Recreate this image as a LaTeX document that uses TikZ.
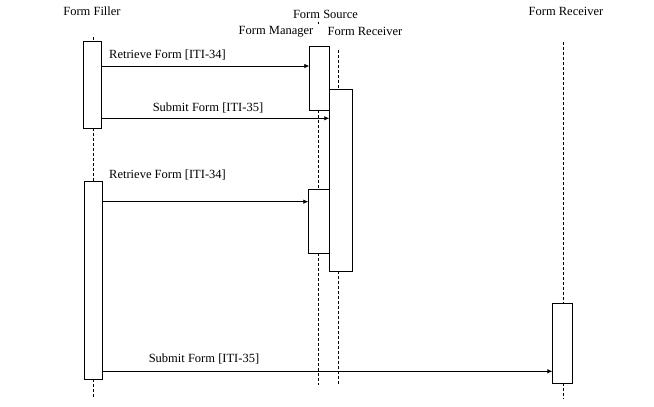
\documentclass[tikz,border=0pt]{standalone}
\usepackage{fontspec}
\setmainfont{Liberation Serif}
\usetikzlibrary{arrows.meta}
\begin{document}
\begin{tikzpicture}[x=1pt,y=-1pt,
  lbl/.style={font=\fontsize{12.5}{13}\selectfont, inner sep=0pt},
  actbox/.style={draw, line width=0.8pt, fill=white, inner sep=0pt, anchor=north west},
  life/.style={line width=0.8pt, dash pattern=on 3pt off 2pt},
  msg/.style={line width=0.8pt, -{Latex[length=5pt,width=4.5pt]}}]
\useasboundingbox (0,0) rectangle (654,407);
% headings
\node[lbl] (hfill) at (92,11.5) {Form Filler};
\node[lbl] (hsrc) at (325.5,14) {Form Source};
\node[lbl] (hman) at (276,31.5) {Form Manager};
\node[lbl] (hrec) at (365,31.5) {Form Receiver};
\node[lbl] (hrr) at (566,11.5) {Form Receiver};
% lifelines
\draw[life] (93,37) -- (93,41);
\draw[life] (93,128) -- (93,182);
\draw[life] (93,379) -- (93,397);
\draw[line width=0.8pt] (318.5,21.5) -- (318.5,23.5);
\draw[life] (318.5,110) -- (318.5,190);
\draw[life] (318.5,253) -- (318.5,385);
\draw[life] (338,50) -- (338,90);
\draw[life] (338,271) -- (338,385);
\draw[life] (563,42) -- (563,303);
\draw[life] (563,383) -- (563,399);
% activation boxes
\node[actbox, minimum width=18.8pt, minimum height=87.6pt] (fill1) at (82.5,40.7) {};
\node[actbox, minimum width=20pt, minimum height=64pt] (man1) at (309.3,46) {};
\node[actbox, minimum width=22.4pt, minimum height=181.7pt] (rec1) at (329.3,89.3) {};
\node[actbox, minimum width=18pt, minimum height=197.7pt] (fill2) at (84,181.3) {};
\node[actbox, minimum width=21pt, minimum height=64pt] (man2) at (308.3,189.3) {};
\node[actbox, minimum width=20pt, minimum height=80.3pt] (rbox) at (552.4,303) {};
% messages
\draw[msg] (fill1.east |- 0,66) -- (man1.west |- 0,66);
\node[lbl, anchor=west] (l1) at (109,55) {Retrieve Form [ITI-34]};
\draw[msg] (fill1.east |- 0,118.3) -- (rec1.west |- 0,118.3);
\node[lbl] (l2) at (208,108) {Submit Form [ITI-35]};
\draw[msg] (fill2.east |- 0,201.7) -- (man2.west |- 0,201.7);
\node[lbl, anchor=west] (l3) at (109,175) {Retrieve Form [ITI-34]};
\draw[msg] (fill2.east |- 0,371.3) -- (rbox.west |- 0,371.3);
\node[lbl] (l4) at (204,359) {Submit Form [ITI-35]};
\end{tikzpicture}
\end{document}
